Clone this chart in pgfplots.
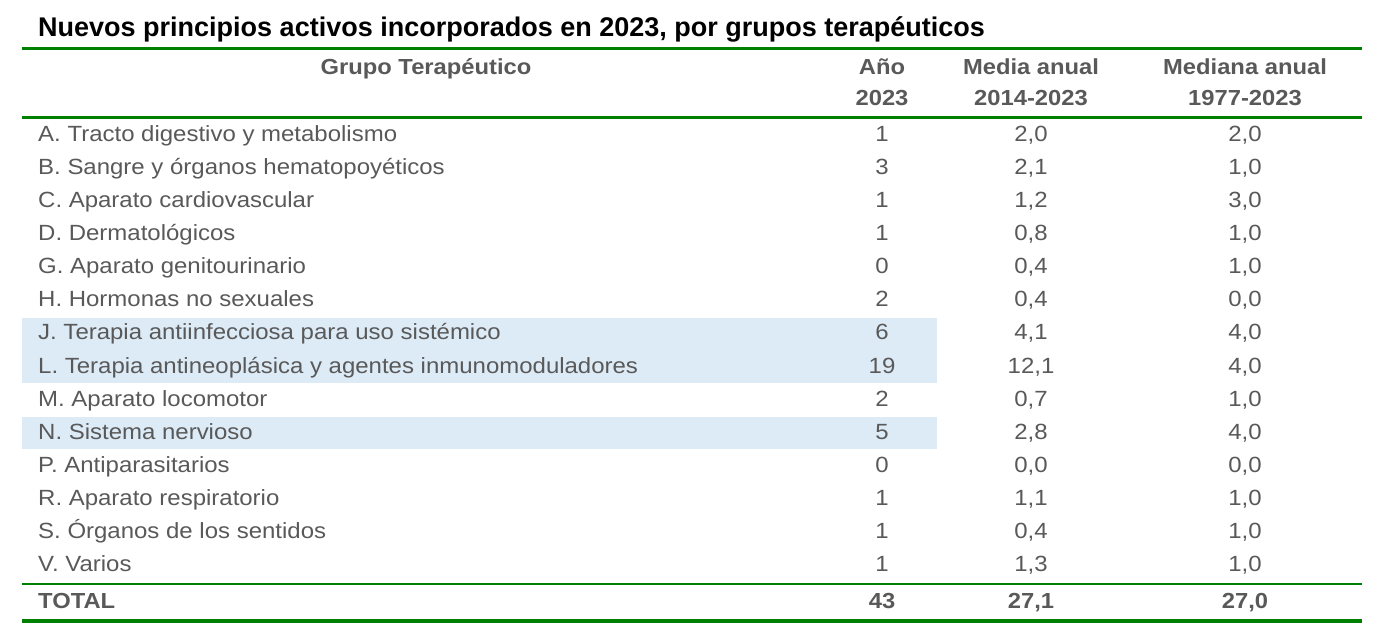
\documentclass[border=0pt]{standalone}
\usepackage{pgfplots}
\pgfplotsset{compat=1.18}
\usepackage{pgfplotstable}
\usepackage{fontspec}
\setmainfont{Liberation Sans}
\newfontfamily\bodyfont{Liberation Sans}[FakeStretch=1.09]
\definecolor{tgreen}{RGB}{0,128,0}
\definecolor{tgray}{RGB}{89,89,89}
\definecolor{tblue}{RGB}{221,235,247}

% y = baseline position (px from top)
\pgfplotstableread{
y ano media mediana
141.3 1 2.0 2.0
174.4 3 2.1 1.0
207.5 1 1.2 3.0
240.6 1 0.8 1.0
273.7 0 0.4 1.0
306.8 2 0.4 0.0
339.9 6 4.1 4.0
373.0 19 12.1 4.0
406.1 2 0.7 1.0
439.2 5 2.8 4.0
472.3 0 0.0 0.0
505.4 1 1.1 1.0
538.5 1 0.4 1.0
571.6 1 1.3 1.0
}\rows

\pgfplotstableread{
y ano media mediana
608.3 43 27.1 27.0
}\total

\newcommand{\bodysize}{\bodyfont\fontsize{22}{26}\selectfont}
\newcommand{\headsize}{\bodyfont\bfseries\fontsize{21.8}{26}\selectfont}

\begin{document}
\begin{tikzpicture}[x=1pt,y=1pt]
\useasboundingbox (0,0) rectangle (1379,639);
\begin{axis}[
  at={(0,0)}, anchor=south west,
  width=1379pt, height=639pt, scale only axis,
  xmin=0, xmax=1379, ymin=0, ymax=639,
  y dir=reverse, hide axis, clip=false,
  /pgf/number format/assume math mode=true,
  every node near coord/.append style={anchor=base, inner sep=0pt, text=tgray},
]
% highlight bands
\fill[tblue] (axis cs:22,318.3) rectangle (axis cs:937,383.3);
\fill[tblue] (axis cs:22,417.3) rectangle (axis cs:937,449.3);

% rules
\draw[tgreen, line width=3pt] (axis cs:22,48.5) -- (axis cs:1362,48.5);
\draw[tgreen, line width=2.3pt] (axis cs:22,117.6) -- (axis cs:1362,117.6);
\draw[tgreen, line width=2pt] (axis cs:22,583.6) -- (axis cs:1362,583.6);
\draw[tgreen, line width=3.8pt] (axis cs:22,620.8) -- (axis cs:1362,620.8);

% title
\node[anchor=base west, inner sep=0pt, font=\bfseries\fontsize{27}{32}\selectfont, text=black]
  at (axis cs:38,36.5) {Nuevos principios activos incorporados en 2023, por grupos terapéuticos};

% headers
\begin{scope}[every node/.style={anchor=base, inner sep=0pt, font=\headsize, text=tgray}]
\node at (axis cs:426,74.5) {Grupo Terapéutico};
\node at (axis cs:882,74.5) {Año};
\node at (axis cs:882,106) {2023};
\node at (axis cs:1031,74.5) {Media anual};
\node at (axis cs:1031,106) {2014-2023};
\node at (axis cs:1245,74.5) {Mediana anual};
\node at (axis cs:1245,106) {1977-2023};
\end{scope}

% row labels
\begin{scope}[every node/.style={anchor=base west, inner sep=0pt, font=\bodysize, text=tgray}]
\node at (axis cs:38,141.3) {A. Tracto digestivo y metabolismo};
\node at (axis cs:38,174.4) {B. Sangre y órganos hematopoyéticos};
\node at (axis cs:38,207.5) {C. Aparato cardiovascular};
\node at (axis cs:38,240.6) {D. Dermatológicos};
\node at (axis cs:38,273.7) {G. Aparato genitourinario};
\node at (axis cs:38,306.8) {H. Hormonas no sexuales};
\node at (axis cs:38,339.9) {J. Terapia antiinfecciosa para uso sistémico};
\node at (axis cs:38,373.0) {L. Terapia antineoplásica y agentes inmunomoduladores};
\node at (axis cs:38,406.1) {M. Aparato locomotor};
\node at (axis cs:38,439.2) {N. Sistema nervioso};
\node at (axis cs:38,472.3) {P. Antiparasitarios};
\node at (axis cs:38,505.4) {R. Aparato respiratorio};
\node at (axis cs:38,538.5) {S. Órganos de los sentidos};
\node at (axis cs:38,571.6) {V. Varios};
\node[font=\headsize] at (axis cs:38,608.3) {TOTAL};
\end{scope}

% numeric columns
\addplot[draw=none, mark=none, point meta=explicit,
  nodes near coords={\pgfmathprintnumber[fixed,precision=0]{\pgfplotspointmeta}},
  every node near coord/.append style={font=\bodysize}]
  table[x expr=882, y=y, meta=ano] {\rows};
\addplot[draw=none, mark=none, point meta=explicit,
  nodes near coords={\pgfmathprintnumber[fixed,fixed zerofill,precision=1,use comma]{\pgfplotspointmeta}},
  every node near coord/.append style={font=\bodysize}]
  table[x expr=1031, y=y, meta=media] {\rows};
\addplot[draw=none, mark=none, point meta=explicit,
  nodes near coords={\pgfmathprintnumber[fixed,fixed zerofill,precision=1,use comma]{\pgfplotspointmeta}},
  every node near coord/.append style={font=\bodysize}]
  table[x expr=1245, y=y, meta=mediana] {\rows};

% total row
\addplot[draw=none, mark=none, point meta=explicit,
  nodes near coords={\pgfmathprintnumber[fixed,precision=0]{\pgfplotspointmeta}},
  every node near coord/.append style={font=\headsize}]
  table[x expr=882, y=y, meta=ano] {\total};
\addplot[draw=none, mark=none, point meta=explicit,
  nodes near coords={\pgfmathprintnumber[fixed,fixed zerofill,precision=1,use comma]{\pgfplotspointmeta}},
  every node near coord/.append style={font=\headsize}]
  table[x expr=1031, y=y, meta=media] {\total};
\addplot[draw=none, mark=none, point meta=explicit,
  nodes near coords={\pgfmathprintnumber[fixed,fixed zerofill,precision=1,use comma]{\pgfplotspointmeta}},
  every node near coord/.append style={font=\headsize}]
  table[x expr=1245, y=y, meta=mediana] {\total};
\end{axis}
\end{tikzpicture}
\end{document}
